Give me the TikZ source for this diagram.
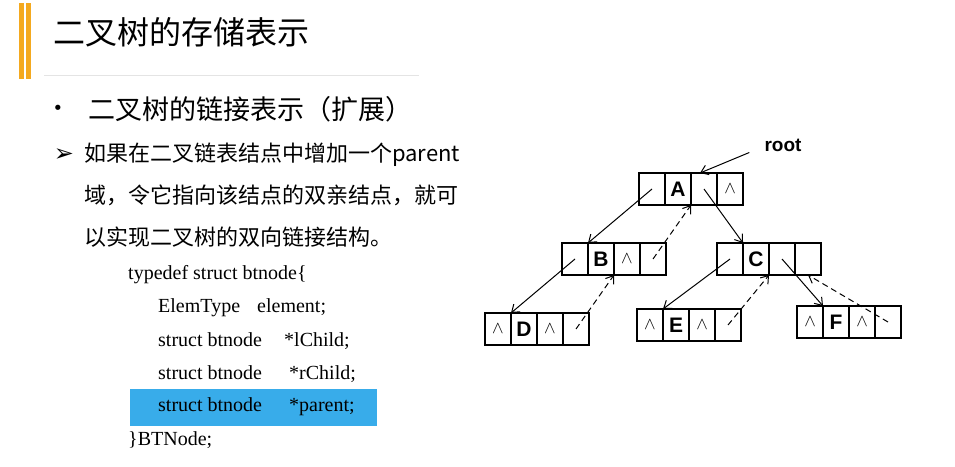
\documentclass[tikz,border=0pt]{standalone}
\usepackage{fontspec}
\setmainfont{Liberation Serif}
\newfontfamily\cjk{Noto Sans CJK SC}
\newfontfamily\lab{Liberation Sans}
\newfontfamily\sym{DejaVu Sans}
\usetikzlibrary{positioning}
\usetikzlibrary{arrows.meta}
\definecolor{barorange}{RGB}{244,169,31}
\definecolor{hlblue}{RGB}{56,172,234}
\definecolor{rulegrey}{RGB}{228,228,228}
\def\nil{{\fontsize{17}{17}\selectfont$\wedge$}}
\tikzstyle{cell} = [draw, line width=1.4pt, minimum width=26pt, minimum height=32pt, inner sep=0pt, outer sep=0pt, font=\lab\bfseries\fontsize{21}{21}\selectfont]
\tikzstyle{arrow} = [line width=1pt,-{Straight Barb[length=7pt,width=10pt]}]
\tikzstyle{back} = [arrow, dash pattern=on 6pt off 4pt]
\tikzstyle{code} = [anchor=west, inner sep=0pt, font=\fontsize{20}{20}\selectfont]
\tikzstyle{cjktext} = [anchor=west, inner sep=0pt]

\begin{document}
\begin{tikzpicture}[x=1pt,y=-1pt]
      \useasboundingbox (0,0) rectangle (955,466);
      % heading
      \fill[barorange] (19,3) rectangle (24,79);
      \fill[barorange] (26,3) rectangle (31,79);
      \node[cjktext, font=\cjk\fontsize{32}{32}\selectfont] (title) at (53,32) {二叉树的存储表示};
      \draw[rulegrey, line width=1pt] (44,75)--(419,75);
      \node[font=\sym\fontsize{18}{18}\selectfont] (dot) at (58,110) {•};
      \node[cjktext, font=\cjk\fontsize{27}{27}\selectfont] (sub) at (88,109) {二叉树的链接表示（扩展）};
      \node[font=\sym\fontsize{24}{24}\selectfont] (tip) at (64,155) {➢};
      \node[cjktext, font=\cjk\fontsize{22}{22}\selectfont] (l1) at (84,155) {如果在二叉链表结点中增加一个parent};
      \node[cjktext, font=\cjk\fontsize{22}{22}\selectfont] (l2) at (84,195) {域，令它指向该结点的双亲结点，就可};
      \node[cjktext, font=\cjk\fontsize{22}{22}\selectfont] (l3) at (84,237) {以实现二叉树的双向链接结构。};
      % struct
      \fill[hlblue] (130,389) rectangle (377,426);
      \node[code] (c1) at (128,275) {typedef struct btnode\{};
      \node[code] (c2) at (158,308) {\makebox[99pt][l]{ElemType}element;};
      \node[code] (c3) at (158,341) {\makebox[126pt][l]{struct btnode}*lChild;};
      \node[code] (c4) at (158,374) {\makebox[131pt][l]{struct btnode}*rChild;};
      \node[code] (c5) at (158,407) {\makebox[131pt][l]{struct btnode}*parent;};
      \node[code] (c6) at (128,440) {\}BTNode;};
      % tree
      \node[cell] (A1) at (652,189) {};
      \node[cell,right=0pt of A1] (A2) {A};
      \node[cell,right=0pt of A2] (A3) {};
      \node[cell,right=0pt of A3] (A4) {\nil};
      \node[cell] (B1) at (575,259) {};
      \node[cell,right=0pt of B1] (B2) {B};
      \node[cell,right=0pt of B2] (B3) {\nil};
      \node[cell,right=0pt of B3] (B4) {};
      \node[cell] (C1) at (730,259) {};
      \node[cell,right=0pt of C1] (C2) {C};
      \node[cell,right=0pt of C2] (C3) {};
      \node[cell,right=0pt of C3] (C4) {};
      \node[cell] (D1) at (498,329) {\nil};
      \node[cell,right=0pt of D1] (D2) {D};
      \node[cell,right=0pt of D2] (D3) {\nil};
      \node[cell,right=0pt of D3] (D4) {};
      \node[cell] (E1) at (650,325) {\nil};
      \node[cell,right=0pt of E1] (E2) {E};
      \node[cell,right=0pt of E2] (E3) {\nil};
      \node[cell,right=0pt of E3] (E4) {};
      \node[cell] (F1) at (810,322) {\nil};
      \node[cell,right=0pt of F1] (F2) {F};
      \node[cell,right=0pt of F2] (F3) {\nil};
      \node[cell,right=0pt of F3] (F4) {};
      \node[inner sep=0pt, font=\lab\bfseries\fontsize{19}{19}\selectfont] (root) at (783,145) {root};
      \draw[arrow] ([xshift=-15pt,yshift=-1pt]root.south west)--([xshift=9pt]A3.north west);
      \draw[arrow] (A1.center)--(B1.north east);
      \draw[arrow] (A3.center)--(C1.north east);
      \draw[arrow] (B1.center)--(D1.north east);
      \draw[arrow] (C1.center)--(E1.north east);
      \draw[arrow] (C3.center)--(F1.north east);
      \draw[back] (B4.center)--(A2.south east);
      \draw[back] (D4.center)--(B2.south east);
      \draw[back] (E4.center)--(C2.south east);
      \draw[back] (F4.center)--(C4.south);
\end{tikzpicture}
\end{document}
